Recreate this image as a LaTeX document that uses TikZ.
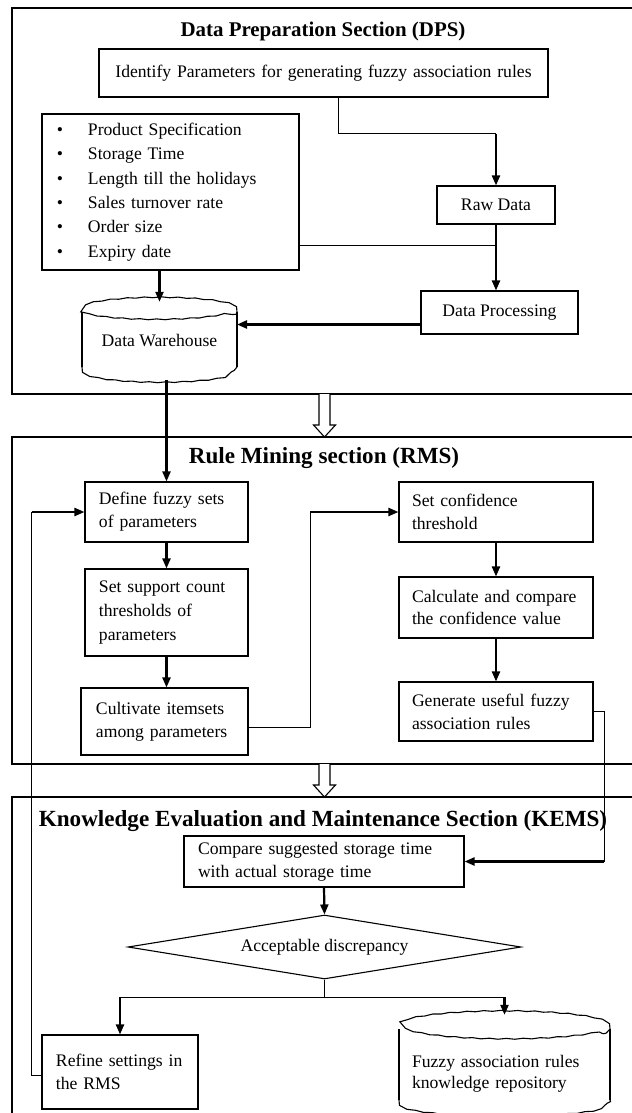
\documentclass[tikz,border=0pt]{standalone}
\usepackage{fontspec}
\setmainfont{Liberation Serif}
\usepackage{tikz}
\usetikzlibrary{arrows.meta, shapes.geometric, decorations.pathmorphing}

\begin{document}
\begin{tikzpicture}[x=1bp, y=1bp, >={Triangle[length=10bp,width=8bp]},
  every node/.style={font=\fontsize{17.7}{23}\selectfont},
  panel/.style={draw, line width=1.1bp},
  hdr/.style={font=\fontsize{23.2}{26}\selectfont\bfseries},
  proc/.style={draw, line width=1.1bp, inner xsep=14bp, inner ysep=0pt, align=left},
  link/.style={line width=1bp},
  flow/.style={line width=2.2bp, ->},
  drum/.style={line width=1.1bp},
  wavy/.style={decorate, decoration={snake, amplitude=0.45bp, segment length=17bp}},
  hollow/.style={draw, line width=1.1bp, fill=white}]
  \useasboundingbox (0,0) rectangle (632,-1113);
  \clip (0,0) rectangle (632,-1113);

  % data preparation section
  \draw[panel] (12,-8) rectangle (650,-394);
  \node[hdr, font=\fontsize{21}{24}\selectfont\bfseries] (dpst) at (323,-31) {Data Preparation Section (DPS)};
  \node[proc, text width=421bp, minimum height=48bp, align=center] (idf) at (323.5,-73) {Identify Parameters for generating fuzzy association rules};
  \node[proc, inner xsep=15bp, text width=227bp, minimum height=156bp, font=\fontsize{17.7}{24.5}\selectfont] (items) at (170.5,-192) {%
    \makebox[31bp][l]{\textbullet}Product Specification\\
    \makebox[31bp][l]{\textbullet}Storage Time\\
    \makebox[31bp][l]{\textbullet}Length till the holidays\\
    \makebox[31bp][l]{\textbullet}Sales turnover rate\\
    \makebox[31bp][l]{\textbullet}Order size\\
    \makebox[31bp][l]{\textbullet}Expiry date};
  \node[proc, inner xsep=0pt, minimum width=118bp, minimum height=38bp] (raw) at (496,-205) {Raw Data};
  \node[proc, inner xsep=0pt, minimum width=157bp, minimum height=43bp] (dproc) at (499.5,-312.5) {Data Processing};
  \node[minimum width=155bp, minimum height=78bp] (wh) at (159.5,-341) {Data Warehouse};
  % drum outline of the warehouse
  \draw[drum] (82,-312) -- (82,-367) (237,-312) -- (237,-367);
  \draw[drum, wavy] (159.5,-312) ellipse [x radius=77.5, y radius=10.5];
  \draw[drum, wavy] (82,-367) arc[start angle=180, end angle=360, x radius=77.5, y radius=11];

  \coordinate (bendA) at ([xshift=14.5bp,yshift=-36bp]idf.south);
  \draw[link] ([xshift=14.5bp]idf.south) -- (bendA) -- (bendA -| raw.north);
  \draw[flow] (bendA -| raw.north) -- (raw.north);
  \draw[flow] (raw.south) -- (raw.south |- dproc.north);
  \draw[link] ([yshift=-53bp]items.east) -- ([yshift=-53bp]items.east -| raw.south);
  \draw[flow] (items.south -| wh.north) -- (wh.north);
  \draw[flow] ([yshift=-12bp]dproc.west) -- ([yshift=-12bp]dproc.west -| 237,0);

  % rule mining section
  \draw[panel] (12,-437) rectangle (650,-764);
  \node[hdr] (rmst) at (324,-458) {Rule Mining section (RMS)};
  \node[proc, text width=135bp, minimum height=60bp] (def) at (166.5,-512) {Define fuzzy sets\\of parameters};
  \node[proc, text width=135bp, minimum height=87bp, font=\fontsize{17.7}{24}\selectfont] (sup) at (166.5,-612.5) {Set support count\\thresholds of\\parameters};
  \node[proc, inner xsep=15bp, text width=137bp, minimum height=67bp] (cul) at (164.5,-721.5) {Cultivate itemsets\\among parameters};
  \node[proc, inner xsep=13bp, text width=168bp, minimum height=60bp] (conf) at (496,-512) {Set confidence\\threshold};
  \node[proc, inner xsep=13bp, text width=168bp, minimum height=61bp] (calc) at (496,-607.5) {Calculate and compare\\the confidence value};
  \node[proc, inner xsep=13bp, text width=168bp, minimum height=59bp] (gen) at (496,-711.5) {Generate useful fuzzy\\association rules};

  \draw[flow] (wh.south -| def.north) -- (def.north);
  \draw[flow] (def.south) -- (sup.north);
  \draw[flow] (sup.south) -- (sup.south |- cul.north);
  \coordinate (bendB) at (310,-512);
  \draw[link] ([yshift=-5.5bp]cul.east) -| (bendB);
  \draw[flow] (bendB) -- (conf.west);
  \draw[flow] (conf.south) -- (calc.north);
  \draw[flow] (calc.south) -- (gen.north);

  % knowledge evaluation and maintenance section
  \draw[panel] (12,-797) rectangle (650,-1130);
  \node[hdr] (kemst) at (323,-821) {Knowledge Evaluation and Maintenance Section (KEMS)};
  \node[proc, text width=252bp, minimum height=51bp] (cmp) at (324,-861.5) {Compare suggested storage time\\with actual storage time};
  \node[draw, diamond, line width=1.1bp, inner sep=0pt, aspect=6.1, minimum width=393bp, minimum height=64bp] (dia) at (324.5,-947) {Acceptable discrepancy};
  \node[proc, text width=128bp, minimum height=74bp] (ref) at (120,-1072) {Refine settings in\\the RMS};
  \node[inner xsep=13bp, inner ysep=0pt, text width=185bp, align=left, minimum height=118bp, font=\fontsize{17.7}{21}\selectfont] (rep) at (504.5,-1074) {Fuzzy association rules\\knowledge repository};
  % drum outline of the repository
  \draw[drum] (399,-1029) -- (399,-1100) (610,-1029) -- (610,-1100);
  \draw[drum, wavy] (504.5,-1029) ellipse [x radius=105.5, y radius=14];
  \draw[drum, wavy] (399,-1100) arc[start angle=180, end angle=360, x radius=105.5, y radius=12];

  \coordinate (bendC) at (604,-861.5);
  \draw[link] (gen.east) -| (bendC);
  \draw[flow] (bendC) -- (cmp.east);
  \draw[flow] (cmp.south) -- (dia.north);
  \coordinate (split) at (324.5,-997);
  \draw[link] (dia.south) -- (split);
  \draw[link] (split -| ref.north) -- (split -| rep.north);
  \draw[flow] (split -| ref.north) -- (ref.north);
  \draw[flow] (split -| rep.north) -- (rep.north);
  \coordinate (bendD) at (31.5,-512);
  \draw[link] ([yshift=-3bp]ref.west) -| (bendD);
  \draw[flow] (bendD) -- (def.west);

  % hollow arrows between the sections
  \foreach \ya/\yh/\yb in {394/425/437, 764/785/797}
    \draw[hollow] (319,-\ya) -- (319,-\yh) -- (313.5,-\yh) -- (324.5,-\yb) -- (335.5,-\yh) -- (330,-\yh) -- (330,-\ya);
\end{tikzpicture}
\end{document}
